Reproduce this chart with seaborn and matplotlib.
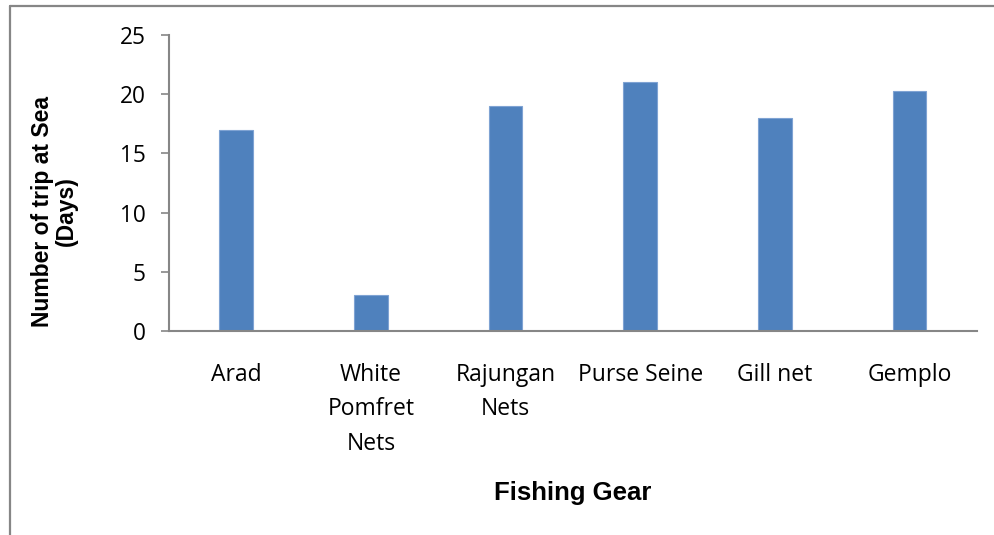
import numpy as np
import seaborn as sns
import pandas as pd
import matplotlib.pyplot as plt
from matplotlib.lines import Line2D

#------------------------------------------------------------------------------#
# Number of trip at sea (days) per fishing gear
#------------------------------------------------------------------------------#

gear_names = ['Arad', 'White\nPomfret\nNets', 'Rajungan\nNets', 'Purse Seine',
              'Gill net', 'Gemplo']
trip_days  = [17, 3, 19, 21, 18, 20.3]
y_ticks    = [0, 5, 10, 15, 20, 25]

bar_color  = '#4F81BD'
axis_gray  = '#868686'

def main():

    DF = pd.DataFrame({'gear': gear_names, 'days': trip_days})

    sns.set_style('white')
    plt.rcParams['font.family'] = ['Open Sans', 'DejaVu Sans']
    plt.rcParams['text.color'] = 'black'
    plt.rcParams['xtick.color'] = 'black'
    plt.rcParams['ytick.color'] = 'black'
    plt.rcParams['axes.labelcolor'] = 'black'

    fig = plt.figure(figsize=(9.95, 5.35), dpi=100)
    ax  = fig.add_axes([169/995, 1 - 331/535, 808/995, 296/535])

    sns.barplot(data=DF, x='gear', y='days', color=bar_color, width=0.25,
                saturation=1, edgecolor='#7FA3D3', linewidth=0.8, ax=ax)

    ax.set_ylim(0, 25)
    ax.set_xlim(-0.5, len(gear_names) - 0.5)
    ax.set_yticks(y_ticks)
    ax.set_yticklabels([str(t) for t in y_ticks], fontsize=16.3)
    ax.tick_params(axis='y', direction='out', length=6, width=1.2,
                   color=axis_gray, labelcolor='black', pad=11, left=True)
    ax.tick_params(axis='x', length=0, pad=23, labelcolor='black')
    for lab in ax.get_xticklabels():
        lab.set_fontsize(16.5)
        lab.set_linespacing(1.58)
        lab.set_verticalalignment('top')

    for side in ['top', 'right']:
        ax.spines[side].set_visible(False)
    for side in ['left', 'bottom']:
        ax.spines[side].set_color(axis_gray)
        ax.spines[side].set_linewidth(1.5)

    ax.set_xlabel('Fishing Gear', fontsize=18.5, fontweight='bold',
                  family='Liberation Sans', color='black')
    ax.xaxis.set_label_coords(0.5, -0.548)
    ax.xaxis.label.set_verticalalignment('center')

    ax.set_ylabel('Number of trip at Sea\n(Days)', fontsize=16.5,
                  fontweight='bold', family='Liberation Sans', color='black',
                  multialignment='center', linespacing=1.06)
    ax.yaxis.set_label_coords(-0.1417, 0.405)
    ax.yaxis.label.set_verticalalignment('center')

    # chart frame (left and top edges are visible)
    fig.add_artist(Line2D([10/995, 10/995], [0, 1 - 5.5/535], color=axis_gray,
                          lw=1.6, transform=fig.transFigure))
    fig.add_artist(Line2D([10/995, 1], [1 - 5.5/535, 1 - 5.5/535],
                          color=axis_gray, lw=1.6, transform=fig.transFigure))

    fig.savefig('out.png', dpi=100)

if __name__ == '__main__':
    main()
